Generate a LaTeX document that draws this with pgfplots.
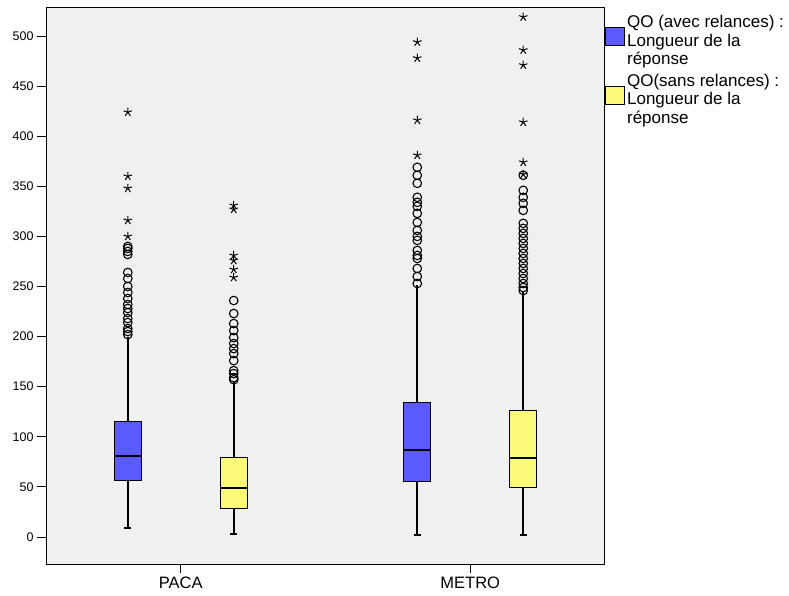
\documentclass[border=0pt]{standalone}
\usepackage{pgfplots}
\pgfplotsset{compat=1.18}
\usepackage{fontspec}
\setmainfont{Liberation Sans}
\definecolor{boxblue}{RGB}{90,90,255}
\definecolor{boxyellow}{RGB}{250,250,120}
\definecolor{bggray}{RGB}{240,240,240}

\begin{document}
\begin{tikzpicture}
\useasboundingbox (-46pt,-32pt) rectangle (743pt,564pt);
\begin{axis}[
    scale only axis,
    width=558pt,
    height=557pt,
    xmin=0.5345, xmax=2.462,
    ymin=-27, ymax=529,
    axis background/.style={fill=bggray},
    axis line style={line width=0.8pt},
    tick pos=left,
    tick align=outside,
    major tick length=9pt,
    tick style={line width=0.8pt, black},
    xtick={1,2},
    xticklabels={PACA,METRO},
    ytick={0,50,...,500},
    /pgf/number format/assume math mode=true,
    yticklabel style={font=\fontsize{12.5}{14}\selectfont},
    xticklabel style={font=\fontsize{16.5}{18}\selectfont},
    whisker/.style={black, line width=1.8pt, forget plot},
    boxout/.style={only marks, mark=o, mark size=4.3pt, mark options={black, line width=1.1pt}, forget plot},
    boxrect/.style={draw=black, line width=0.9pt, forget plot},
    med/.style={black, line width=2.4pt, forget plot},
    legend style={at={(1,1)}, anchor=north west, xshift=-2pt, yshift=-4pt,
        draw=none, fill=none, row sep=4pt,
        font=\fontsize{17}{18.5}\selectfont,
        cells={align=left, anchor=west}},
    legend cell align=left,
]
\addlegendimage{legend image code/.code={\draw[fill=boxblue,draw=black,line width=0.9pt] (0pt,-5pt) rectangle (19pt,13pt);}}
\addlegendentry{QO (avec relances) :\\Longueur de la\\réponse}
\addlegendimage{legend image code/.code={\draw[fill=boxyellow,draw=black,line width=0.9pt] (0pt,-5pt) rectangle (19pt,13pt);}}
\addlegendentry{QO(sans relances) :\\Longueur de la\\réponse}

% ---- PACA, avec relances: lw 9, q1 56, med 81, q3 115, uw 200
\addplot[whisker] coordinates {(0.817,9) (0.817,56)};
\addplot[whisker] coordinates {(0.817,115) (0.817,200)};
\addplot[whisker] coordinates {(0.8045,9) (0.8295,9)};
\addplot[boxrect, fill=boxblue] coordinates {(0.7705,56) (0.8635,56) (0.8635,115) (0.7705,115) (0.7705,56)};
\addplot[med] coordinates {(0.7705,81) (0.8635,81)};
\addplot[boxout] coordinates {(0.817,290) (0.817,288) (0.817,285) (0.817,282) (0.817,264) (0.817,258)
    (0.817,250) (0.817,244) (0.817,238) (0.817,232) (0.817,228) (0.817,224) (0.817,218) (0.817,214)
    (0.817,208) (0.817,205) (0.817,202)};

% ---- PACA, sans relances: lw 3, q1 28, med 49, q3 79, uw 156
\addplot[whisker] coordinates {(1.183,3) (1.183,28)};
\addplot[whisker] coordinates {(1.183,79) (1.183,156)};
\addplot[whisker] coordinates {(1.1705,3) (1.1955,3)};
\addplot[boxrect, fill=boxyellow] coordinates {(1.1365,28) (1.2295,28) (1.2295,79) (1.1365,79) (1.1365,28)};
\addplot[med] coordinates {(1.1365,49) (1.2295,49)};
\addplot[boxout] coordinates {(1.183,236) (1.183,223) (1.183,213) (1.183,206) (1.183,199) (1.183,193)
    (1.183,188) (1.183,183) (1.183,176) (1.183,166) (1.183,163) (1.183,159) (1.183,157)};

% ---- METRO, avec relances: lw 2, q1 55, med 87, q3 134, uw 251
\addplot[whisker] coordinates {(1.817,2) (1.817,55)};
\addplot[whisker] coordinates {(1.817,134) (1.817,251)};
\addplot[whisker] coordinates {(1.8045,2) (1.8295,2)};
\addplot[boxrect, fill=boxblue] coordinates {(1.7705,55) (1.8635,55) (1.8635,134) (1.7705,134) (1.7705,55)};
\addplot[med] coordinates {(1.7705,87) (1.8635,87)};
\addplot[boxout] coordinates {(1.817,369) (1.817,361) (1.817,353) (1.817,339) (1.817,334) (1.817,330)
    (1.817,323) (1.817,314) (1.817,306) (1.817,300) (1.817,296) (1.817,286) (1.817,281) (1.817,278)
    (1.817,268) (1.817,260) (1.817,253)};

% ---- METRO, sans relances: lw 2, q1 49, med 79, q3 126, uw 245
\addplot[whisker] coordinates {(2.183,2) (2.183,49)};
\addplot[whisker] coordinates {(2.183,126) (2.183,245)};
\addplot[whisker] coordinates {(2.1705,2) (2.1955,2)};
\addplot[boxrect, fill=boxyellow] coordinates {(2.1365,49) (2.2295,49) (2.2295,126) (2.1365,126) (2.1365,49)};
\addplot[med] coordinates {(2.1365,79) (2.2295,79)};
\addplot[boxout] coordinates {(2.183,361) (2.183,346) (2.183,339) (2.183,333) (2.183,326) (2.183,313)
    (2.183,308) (2.183,303) (2.183,298) (2.183,293) (2.183,288) (2.183,283) (2.183,278) (2.183,273)
    (2.183,268) (2.183,263) (2.183,258) (2.183,253) (2.183,249) (2.183,246)};

% ---- extreme values (stars)
\addplot[only marks, mark=star, mark size=4.5pt, mark options={black, line width=1pt}, forget plot]
  coordinates {(0.817,424) (0.817,360) (0.817,348) (0.817,316) (0.817,300)
               (1.183,331) (1.183,327) (1.183,281) (1.183,276) (1.183,267) (1.183,259)
               (1.817,494) (1.817,478) (1.817,416) (1.817,381)
               (2.183,519) (2.183,486) (2.183,471) (2.183,414) (2.183,374) (2.183,362)};
\end{axis}
\end{tikzpicture}
\end{document}
